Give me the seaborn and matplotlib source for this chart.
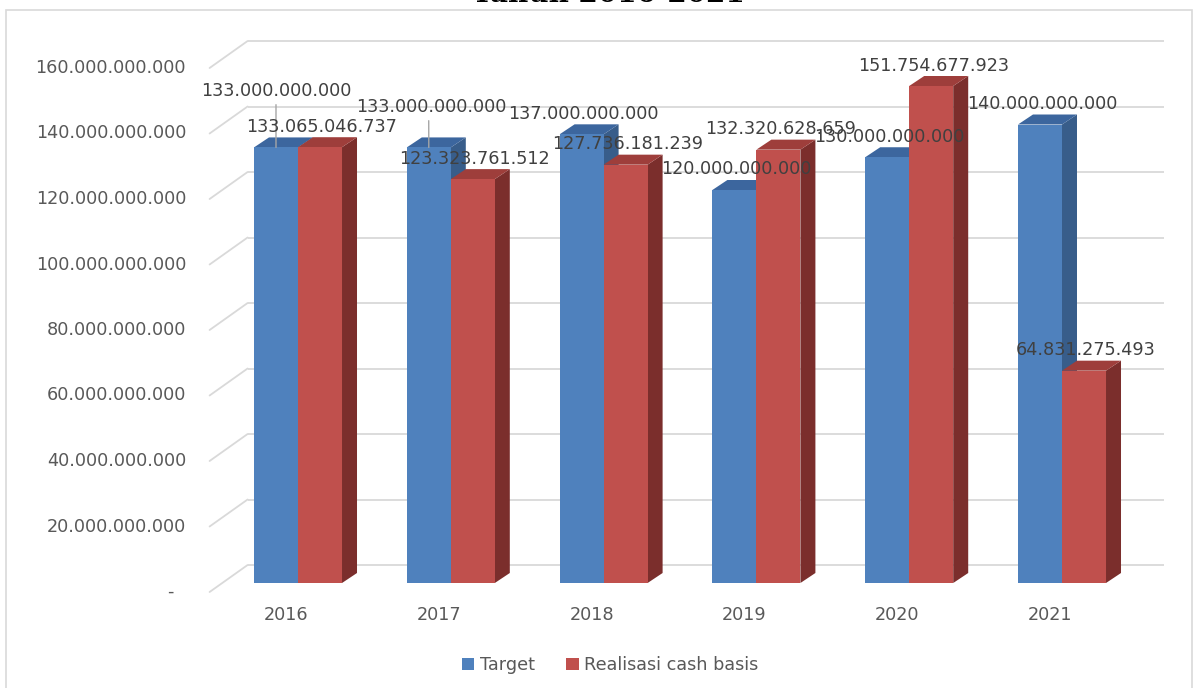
import numpy as np
import pandas as pd
import matplotlib
matplotlib.use("Agg")
import matplotlib.pyplot as plt
from matplotlib.patches import Polygon, Patch, Rectangle
import seaborn as sns

# ---- data -------------------------------------------------------------
years = ["2016", "2017", "2018", "2019", "2020", "2021"]
target = [133000000000, 133000000000, 137000000000, 120000000000,
          130000000000, 140000000000]
realisasi = [133065046737, 123323761512, 127736181239, 132320628659,
             151754677923, 64831275493]
series_names = ["Target", "Realisasi cash basis"]
y_ticks = [0, 20e9, 40e9, 60e9, 80e9, 100e9, 120e9, 140e9, 160e9]
title = "Tahun 2016-2021"

# ---- style ------------------------------------------------------------
front_cols = ["#4F81BD", "#C0504D"]
top_cols = ["#3C669E", "#9E3E3B"]
side_cols = ["#385D8A", "#7B2E2C"]
grid_col = "#D9D9D9"
label_col = "#404040"
axis_col = "#595959"
fs = 12.7

sns.set_theme(style="white")
plt.rcParams["font.family"] = ["DejaVu Sans"]

def fmt(v):
    if v == 0:
        return "-  "
    return f"{v:,.0f}".replace(",", ".")

df = pd.DataFrame({
    "Tahun": years * 2,
    "Seri": [series_names[0]] * len(years) + [series_names[1]] * len(years),
    "Nilai": target + realisasi,
})

W, H = 1204, 688
fig = plt.figure(figsize=(W / 100, H / 100), dpi=100)
ax = fig.add_axes([221.6 / W, (H - 583) / H, 916.8 / W, 524 / H])

sns.barplot(data=df, x="Tahun", y="Nilai", hue="Seri", palette=front_cols,
            width=0.576, gap=0, saturation=1, linewidth=0, legend=False,
            ax=ax, errorbar=None)
ax.set_xlim(-0.5, len(years) - 0.5)
ax.set_ylim(0, 160e9)
ax.axis("off")


def px(dx, dy):
    """Convert a pixel offset into data units of the axes."""
    o = ax.transData.transform((0, 0))
    p = ax.transData.inverted().transform(o + np.array([dx, dy]))
    return p[0], p[1]


# depth of the bars, back wall and front edge of the floor
bdx, bdy = px(15, 10)
wdx, wdy = px(26, 18)
fdx, fdy = px(-12, -9)

# back wall gridlines and left-side diagonals
x0w, x1w = -0.5, len(years) - 0.5
for v in y_ticks:
    ax.plot([x0w + wdx, x1w + wdx], [v + wdy, v + wdy], color=grid_col,
            lw=1.3, zorder=0, clip_on=False, solid_capstyle="butt")
    ax.plot([x0w + fdx, x0w + wdx], [v + fdy, v + wdy], color=grid_col,
            lw=1.3, zorder=0, clip_on=False)

# y tick labels on the front plane
xl = ax.transData.inverted().transform((186, 0))[0]
for v in y_ticks:
    ax.text(xl, v + fdy, fmt(v), ha="right", va="center", fontsize=fs,
            color=axis_col, clip_on=False)

# category labels
yl = ax.transData.inverted().transform((0, H - 615))[1]
for i, yr in enumerate(years):
    ax.text(i + fdx, yl, yr, ha="center", va="center", fontsize=fs,
            color=axis_col, clip_on=False)

# 3D faces on each bar
for j, cont in enumerate(ax.containers):
    for p in cont.patches:
        x0, w, h = p.get_x(), p.get_width(), p.get_height()
        p.set_zorder(3 + 2 * j)
        side = [(x0 + w, 0), (x0 + w + bdx, bdy), (x0 + w + bdx, h + bdy),
                (x0 + w, h)]
        top = [(x0, h), (x0 + bdx, h + bdy), (x0 + w + bdx, h + bdy),
               (x0 + w, h)]
        ax.add_patch(Polygon(side, closed=True, facecolor=side_cols[j],
                             edgecolor="none", zorder=2 + 2 * j,
                             clip_on=False))
        ax.add_patch(Polygon(top, closed=True, facecolor=top_cols[j],
                             edgecolor="none", zorder=2.5 + 2 * j,
                             clip_on=False))

# value labels (offsets in pixels from the top of each bar)
default_off = (2, 20.5)
moved = {(0, 0): (0, 56.4), (0, 1): (3, 40.4)}
for j, vals in enumerate([target, realisasi]):
    cont = ax.containers[j]
    for i, v in enumerate(vals):
        p = cont.patches[i]
        cx = p.get_x() + p.get_width() / 2
        off = moved.get((j, i), default_off)
        kw = {}
        if (j, i) in moved:
            kw["arrowprops"] = dict(arrowstyle="-", color="#A6A6A6", lw=1.0,
                                    relpos=(0.5 - off[0] / 146, 0.0),
                                    shrinkA=1, shrinkB=0)
        ax.annotate(fmt(v), xy=(cx, v), xytext=off,
                    textcoords="offset pixels", ha="center", va="center",
                    fontsize=fs, color=label_col, zorder=10,
                    annotation_clip=False, **kw)

# legend
handles = [Patch(facecolor=c, edgecolor="none") for c in front_cols]
fig.legend(handles, series_names, loc="center",
           bbox_to_anchor=(610 / W, 1 - 665 / H), ncol=2, frameon=False,
           handlelength=0.7, handleheight=0.7, handletextpad=0.3,
           columnspacing=1.8, fontsize=fs, labelcolor=axis_col)

# title (sits mostly above the top edge) and chart frame
fig.text(608 / W, 1 - 1.5 / H, title, ha="center", va="baseline",
         fontsize=20, fontweight="bold", family="DejaVu Serif", color="black")
fig.patches.append(Rectangle((6 / W, -0.05), (1192 - 6) / W,
                             (H - 10) / H + 0.05, transform=fig.transFigure,
                             fill=False, edgecolor=grid_col, lw=1.2))

fig.savefig("out.png", dpi=100)
